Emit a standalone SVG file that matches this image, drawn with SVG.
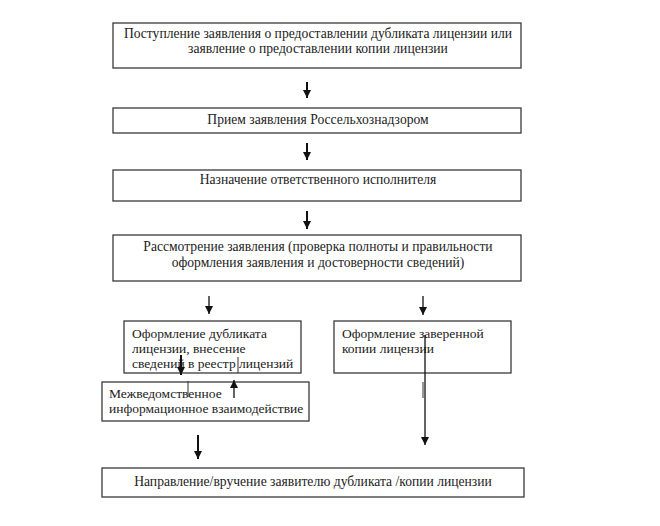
<svg xmlns="http://www.w3.org/2000/svg" width="660" height="526" viewBox="0 0 660 526">
<style>
.box{fill:#fff;stroke:#3a3a3a;stroke-width:1.3}
text{font-family:'Liberation Serif','Times New Roman','DejaVu Serif',serif;fill:#222}
.t{font-size:13.6px}
.s{font-size:13.5px}
.tc{text-anchor:middle}
.ln{stroke:#111;stroke-width:1.3;fill:none}
.thk{stroke:#111;stroke-width:2;fill:none}
.thin{stroke:#333;stroke-width:1;fill:none}
</style>
<defs>
<marker id="ah" markerWidth="8" markerHeight="8" refX="8" refY="4" orient="auto" markerUnits="userSpaceOnUse" viewBox="0 0 8 8">
<path d="M0,0 L8,4 L0,8 z" fill="#111"/>
</marker>
</defs>
<rect width="660" height="526" fill="#fff"/>
<g id="n1"><rect class="box" x="113" y="23" width="408" height="45"/>
<text class="t tc" x="318" y="38">Поступление заявления о предоставлении дубликата лицензии или</text>
<text class="t tc" x="318" y="53">заявление о предоставлении копии лицензии</text></g>
<g id="n2"><rect class="box" x="113" y="108" width="408" height="25"/>
<text class="t tc" x="318" y="124">Прием заявления Россельхознадзором</text></g>
<g id="n3"><rect class="box" x="113" y="170" width="408" height="31"/>
<text class="t tc" x="318" y="184">Назначение ответственного исполнителя</text></g>
<g id="n4"><rect class="box" x="113" y="235" width="408" height="46"/>
<text class="t tc" x="318" y="251">Рассмотрение заявления (проверка полноты и правильности</text>
<text class="t tc" x="318" y="267">оформления заявления и достоверности сведений)</text></g>
<g id="n5"><rect class="box" x="124" y="321" width="177" height="52"/>
<text class="s" x="132" y="338">Оформление дубликата</text>
<text class="s" x="132" y="353">лицензии, внесение</text>
<text class="s" x="132" y="368">сведений в реестр лицензий</text></g>
<g id="n6"><rect class="box" x="102" y="382" width="207" height="39"/>
<text class="s" x="109" y="398">Межведомственное</text>
<text class="s" x="109" y="413">информационное взаимодействие</text></g>
<g id="n7"><rect class="box" x="334" y="321" width="177" height="52"/>
<text class="s" x="342" y="338">Оформление заверенной</text>
<text class="s" x="342" y="353">копии лицензии</text></g>
<g id="n8"><rect class="box" x="102" y="468" width="422" height="29"/>
<text class="t tc" x="313" y="486">Направление/вручение заявителю дубликата /копии лицензии</text></g>
<g id="connectors">
<line class="thk" x1="307" y1="82" x2="307" y2="98" marker-end="url(#ah)"/>
<line class="thk" x1="307" y1="143" x2="307" y2="160" marker-end="url(#ah)"/>
<line class="thk" x1="307" y1="211" x2="307" y2="229" marker-end="url(#ah)"/>
<line class="ln" x1="209" y1="296" x2="209" y2="314" marker-end="url(#ah)"/>
<line class="ln" x1="423" y1="296" x2="423" y2="315" marker-end="url(#ah)"/>
<line class="thk" x1="181" y1="355" x2="181" y2="375" marker-end="url(#ah)"/>
<line class="thin" x1="188" y1="381" x2="188" y2="397"/>
<line class="ln" x1="234" y1="398" x2="234" y2="380" marker-end="url(#ah)"/>
<line class="thin" x1="238" y1="357" x2="238" y2="373"/>
<line class="ln" x1="425" y1="335" x2="425" y2="445" marker-end="url(#ah)"/>
<line class="thin" x1="423" y1="382" x2="423" y2="398"/>
<line class="thk" x1="198" y1="435" x2="198" y2="459" marker-end="url(#ah)"/>
</g>
</svg>
